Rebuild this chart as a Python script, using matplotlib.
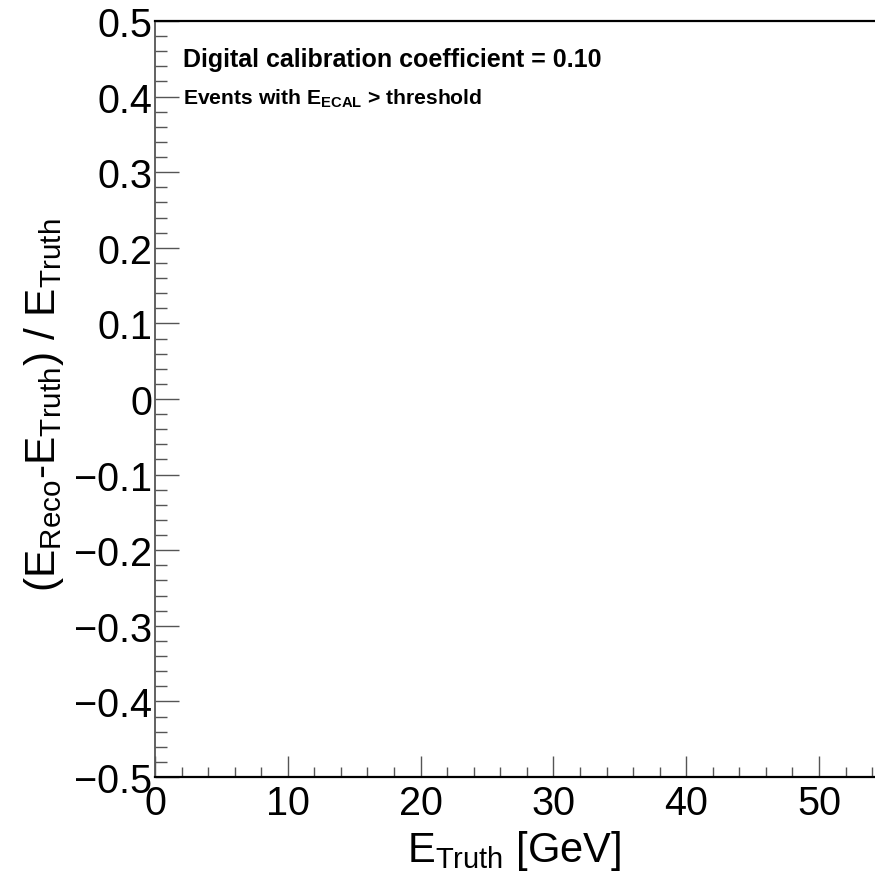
import matplotlib
matplotlib.use("Agg")
import matplotlib.pyplot as plt
from matplotlib.ticker import MultipleLocator

plt.rcParams["font.family"] = ["Liberation Sans", "DejaVu Sans"]
plt.rcParams["mathtext.fontset"] = "custom"
plt.rcParams["mathtext.rm"] = "Liberation Sans"
plt.rcParams["mathtext.it"] = "Liberation Sans"
plt.rcParams["mathtext.bf"] = "Liberation Sans:bold"

# axis ranges and labels (empty frame, no data drawn)
x_range = [0, 60]
y_range = [-0.5, 0.5]
x_ticks = [0, 10, 20, 30, 40, 50]
x_tick_labels = ["0", "10", "20", "30", "40", "50"]
y_ticks = [-0.5, -0.4, -0.3, -0.2, -0.1, 0.0, 0.1, 0.2, 0.3, 0.4, 0.5]
y_tick_labels = ["\u22120.5", "\u22120.4", "\u22120.3", "\u22120.2", "\u22120.1", "0",
                 "0.1", "0.2", "0.3", "0.4", "0.5"]
x_title = r"E$_{\rm Truth}$ [GeV]"
y_title = r"(E$_{\rm Reco}$-E$_{\rm Truth}$) / E$_{\rm Truth}$"
note_lines = ["Digital calibration coefficient = 0.10",
              r"Events with E$_{\mathbf{ECAL}}$ > threshold"]

W, H = 875, 879
fig = plt.figure(figsize=(W / 100, H / 100), dpi=100)

px_per_unit = 13.28
left, right = 155, 155 + px_per_unit * (x_range[1] - x_range[0])
top, bottom = 22, 778
ax = fig.add_axes([left / W, 1 - bottom / H, (right - left) / W, (bottom - top) / H])
ax.set_xlim(x_range)
ax.set_ylim(y_range)

ax.set_xticks(x_ticks)
ax.set_xticklabels(x_tick_labels)
ax.set_yticks(y_ticks)
ax.set_yticklabels(y_tick_labels)
ax.xaxis.set_minor_locator(MultipleLocator(2))
ax.yaxis.set_minor_locator(MultipleLocator(0.02))

ax.tick_params(axis="both", which="both", direction="in", color="#555555", width=1.0,
               labelsize=28.5, top=False, right=False)
ax.tick_params(axis="y", which="major", length=17, pad=2)
ax.tick_params(axis="y", which="minor", length=8.5)
ax.tick_params(axis="x", which="major", length=15, pad=5)
ax.tick_params(axis="x", which="minor", length=7.5)

ax.spines["right"].set_visible(False)
ax.spines["top"].set_linewidth(1.6)
ax.spines["bottom"].set_linewidth(1.6)
ax.spines["left"].set_linewidth(1.3)
ax.spines["left"].set_color("#555555")

fig.text(621 / W, 1 - 862 / H, x_title, ha="right", va="baseline", fontsize=30)
fig.text(22 / W, 1 - 218 / H, y_title, ha="left", va="top", rotation=90, fontsize=30.5)

fig.text(183 / W, 1 - 67 / H, note_lines[0], ha="left", va="baseline",
         fontsize=18, fontweight="bold")
fig.text(183 / W, 1 - 105 / H, note_lines[1], ha="left", va="baseline",
         fontsize=15.2, fontweight="bold")

fig.savefig("out.png", dpi=100)
